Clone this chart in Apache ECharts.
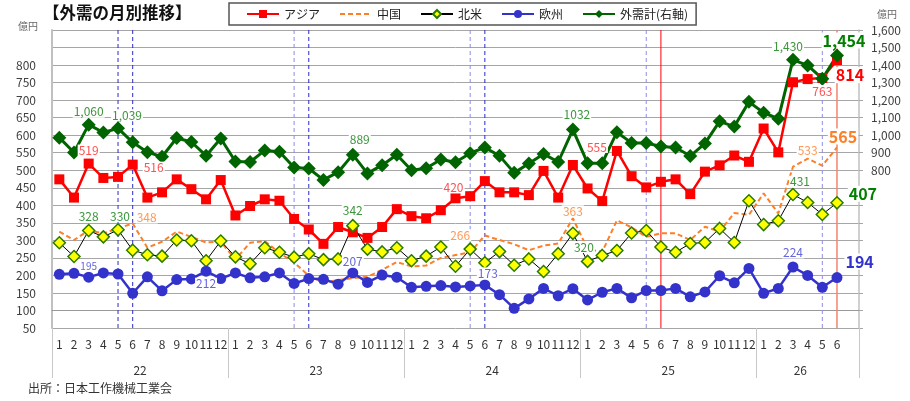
<!DOCTYPE html>
<html>
<head>
<meta charset="utf-8">
<script src="https://cdn.jsdelivr.net/npm/echarts@6/dist/echarts.min.js"></script>
<style>
  html, body { margin: 0; padding: 0; background: #fff; }
  #chart { width: 910px; height: 401px; }
</style>
</head>
<body>
<div id="chart"></div>
<script>
// 年・月
const years = ['22', '23', '24', '25', '26'];
const monthsPerYear = [12, 12, 12, 12, 6];

// 億円 (左軸)
const asia = [474, 422, 519, 478, 481, 516, 422, 437, 474, 446, 417, 472,
  371, 398, 417, 413, 361, 331, 290, 338, 323, 307, 338, 389,
  369, 363, 386, 420, 426, 469, 437, 437, 429, 498, 422, 515,
  448, 412, 555, 483, 451, 467, 474, 432, 496, 514, 542, 524,
  619, 551, 751, 760, 763, 814];
const china = [325, 301, 328, 320, 334, 348, 279, 296, 325, 310, 294, 296,
  246, 293, 298, 264, 237, 199, 179, 187, 192, 196, 216, 238,
  226, 228, 250, 258, 266, 314, 301, 289, 272, 285, 291, 363,
  275, 267, 357, 337, 310, 320, 320, 301, 339, 325, 378, 373,
  434, 377, 510, 533, 513, 565];
const northAmerica = [293, 254, 328, 310, 330, 272, 259, 255, 301, 299, 242, 298,
  253, 233, 279, 266, 252, 262, 245, 247, 342, 275, 267, 279,
  242, 255, 281, 226, 275, 236, 268, 229, 247, 211, 262, 320,
  240, 257, 271, 321, 328, 281, 266, 291, 294, 334, 294, 413,
  345, 356, 431, 408, 374, 407];
const europe = [203, 206, 195, 207, 204, 149, 196, 156, 188, 190, 212, 191,
  207, 193, 196, 207, 177, 191, 189, 175, 207, 180, 201, 195,
  166, 169, 171, 167, 170, 173, 145, 106, 133, 163, 142, 162,
  130, 152, 163, 136, 157, 157, 163, 139, 153, 199, 179, 220,
  149, 163, 224, 200, 166, 194];
// 億円 (右軸)
const total = [986, 901, 1060, 1015, 1039, 959, 903, 877, 984, 961, 883, 981,
  850, 847, 913, 906, 815, 810, 745, 789, 889, 782, 829, 888,
  800, 811, 861, 845, 897, 930, 882, 785, 838, 893, 847, 1032,
  840, 840, 1017, 956, 955, 935, 930, 881, 953, 1079, 1049, 1190,
  1128, 1094, 1430, 1398, 1322, 1454];

// 縦線を引く月
const markDark = ['22/5', '22/6', '23/6', '24/6'];
const markLight = ['23/5', '24/5', '25/5', '26/5'];
const markRed = ['25/6'];
const markSalmon = ['26/6'];

// 軸の範囲
const leftMin = 50, leftMax = 900;

// カテゴリ（最後に空の枠が1つある）
const categories = [];
const yearBounds = [0];
const yearCenters = [];
const yearAt = {};
years.forEach((y, k) => {
  const start = categories.length;
  for (let m = 1; m <= monthsPerYear[k]; m++) categories.push(y + '/' + m);
  yearCenters.push(start + monthsPerYear[k] / 2);
  yearAt[start + monthsPerYear[k] / 2] = y;
  if (k < years.length - 1) yearBounds.push(categories.length);
});
categories.push('');
yearBounds.push(categories.length);

const font = "'Noto Sans CJK JP', 'Noto Sans', sans-serif";
const comma = p => Number(p.value).toLocaleString('en-US');

function labeled(values, specs) {
  return values.map((v, i) => specs[i] ? { value: v, label: Object.assign({ show: true }, specs[i]) } : v);
}

// 縦線はカスタム系列で描く
function vlines(months, style) {
  return {
    type: 'custom', silent: true, xAxisIndex: 0, yAxisIndex: 0,
    data: months.map(m => [m]),
    renderItem: (params, api) => {
      const x = api.value(0);
      const p1 = api.coord([x, leftMax]);
      const p2 = api.coord([x, leftMin]);
      return {
        type: 'line',
        shape: { x1: p1[0], y1: p1[1], x2: p2[0], y2: p2[1] },
        style: Object.assign({ fill: null }, style)
      };
    }
  };
}

const big = { fontSize: 16, fontWeight: 'bold' };

const asiaLabels = {
  2: { position: 'top', distance: 2 },
  5: { position: 'right', distance: 5, offset: [0, 3] },
  27: { position: 'top', distance: 0, offset: [-2, 0] },
  38: { position: 'left', distance: 4, offset: [0, -4] },
  52: { position: 'bottom', distance: 2 },
  53: Object.assign({ position: 'bottom', distance: 2, offset: [13, 0], color: '#ff0000' }, big)
};
const chinaLabels = {
  5: { position: 'right', distance: 3, offset: [0, -6] },
  28: { position: 'top', distance: 11, offset: [-10, 0] },
  35: { position: 'top', distance: 1 },
  51: { position: 'top', distance: 2 },
  53: Object.assign({ position: 'top', distance: 3, offset: [6, 0], color: '#ff7f27' }, big)
};
const naLabels = {
  2: { position: 'top', distance: 1 },
  4: { position: 'top', distance: 1, offset: [2, 0] },
  20: { position: 'top', distance: 2 },
  35: { position: 'bottom', distance: 1, offset: [11, 0] },
  50: { position: 'top', distance: 0, offset: [7, 0] },
  53: Object.assign({ position: 'right', distance: 4, offset: [0, -9], color: '#008000' }, big)
};
const europeLabels = {
  2: { position: 'top', distance: 0, fontSize: 10 },
  10: { position: 'bottom', distance: 1 },
  20: { position: 'top', distance: 0 },
  29: { position: 'top', distance: 0, offset: [3, 0] },
  50: { position: 'top', distance: 3 },
  53: Object.assign({ position: 'right', distance: 2, offset: [0, -16], color: '#3333cc' }, big)
};
const totalLabels = {
  2: { position: 'top', distance: 0 },
  4: { position: 'top', distance: 0, offset: [9, 0] },
  20: { position: 'top', distance: 2, offset: [7, 0] },
  35: { position: 'top', distance: 2, offset: [4, 0], formatter: '{c}' },
  50: { position: 'top', distance: 0, offset: [-5, 0] },
  53: Object.assign({ position: 'top', distance: 0, offset: [7, 0], color: '#008000' }, big)
};

const chart = echarts.init(document.getElementById('chart'));

const labelBase = { fontSize: 12, backgroundColor: '#fff', padding: [0, 1], formatter: comma };

chart.setOption({
  animation: false,
  textStyle: { fontFamily: font },
  title: [{
    text: '【外需の月別推移】', left: 38, top: -1,
    textStyle: { fontSize: 16.5, fontWeight: 'bold', color: '#111', fontFamily: font }
  }, {
    text: '出所：日本工作機械工業会', left: 23, top: 377,
    textStyle: { fontSize: 12, fontWeight: 'normal', color: '#333', fontFamily: font }
  }],
  legend: {
    left: 229, top: 3, padding: [5, 8, 5, 17], itemGap: 19, itemWidth: 32, itemHeight: 10,
    borderColor: '#555', borderWidth: 1.5,
    textStyle: { fontSize: 12, color: '#222' },
    data: ['アジア', '中国', '北米', '欧州', '外需計(右軸)']
  },
  grid: { left: 52, right: 51, top: 30, bottom: 73 },
  xAxis: [{
    type: 'category', data: categories, boundaryGap: true,
    axisLine: { lineStyle: { color: '#999' } },
    axisTick: { interval: 0, length: 25, lineStyle: { color: '#c8c8c8' } },
    axisLabel: { interval: 0, margin: 10, fontSize: 12, color: '#333', formatter: v => v.split('/')[1] || '' },
    splitLine: { show: false }
  }, {
    type: 'value', min: 0, max: categories.length, position: 'bottom',
    axisLine: { show: false }, splitLine: { show: false },
    axisTick: { show: true, customValues: yearBounds, length: 50, lineStyle: { color: '#c8c8c8' } },
    axisLabel: { customValues: yearCenters, formatter: v => yearAt[v] || '', margin: 36, fontSize: 12, color: '#333' }
  }],
  yAxis: [{
    type: 'value', min: leftMin, max: leftMax, interval: 50, position: 'left',
    name: '億円', nameGap: 4,
    nameTextStyle: { fontSize: 10, color: '#666', align: 'right', verticalAlign: 'middle', padding: [0, 14, 0, 0] },
    axisLine: { show: true, lineStyle: { color: '#c0c0c0', width: 2 } },
    axisTick: { show: false },
    axisLabel: { margin: 16, fontSize: 12, color: '#404040', formatter: v => v <= 800 ? v : '' },
    splitLine: { lineStyle: { color: '#a6a6a6' } }
  }, {
    type: 'value', min: -100, max: 1600, interval: 100, position: 'right',
    name: '億円', nameGap: 16,
    nameTextStyle: { fontSize: 10, color: '#666', align: 'left', verticalAlign: 'middle', padding: [0, 0, 0, 18] },
    axisLine: { show: true, lineStyle: { color: '#c0c0c0', width: 1.5 } },
    axisTick: { show: true, length: 4, lineStyle: { color: '#a6a6a6' } },
    axisLabel: { margin: 12, fontSize: 12, color: '#404040', formatter: v => v >= 800 ? v.toLocaleString('en-US') : '' },
    splitLine: { show: false }
  }],
  series: [
    vlines(markDark, { stroke: '#2a2ad0', lineWidth: 1, lineDash: [4, 3] }),
    vlines(markLight, { stroke: '#8c8ce8', lineWidth: 1, lineDash: [4, 3] }),
    vlines(markRed, { stroke: '#ff0000', lineWidth: 1 }),
    vlines(markSalmon, { stroke: '#f4846a', lineWidth: 1.5 }),
  {
    name: 'アジア', type: 'line', yAxisIndex: 0,
    data: labeled(asia, asiaLabels),
    symbol: 'rect', symbolSize: 10,
    lineStyle: { color: '#ff0000', width: 2.5 },
    itemStyle: { color: '#ff0000' },
    label: Object.assign({}, labelBase, { color: '#ff5050' })
  }, {
    name: '中国', type: 'line', yAxisIndex: 0,
    data: labeled(china, chinaLabels),
    symbol: 'circle', symbolSize: 0,
    lineStyle: { color: '#ff7f27', width: 2, type: [5, 3] },
    itemStyle: { color: 'rgba(0,0,0,0)' },
    label: Object.assign({}, labelBase, { color: '#ff9955' })
  }, {
    name: '北米', type: 'line', yAxisIndex: 0,
    data: labeled(northAmerica, naLabels),
    symbol: 'diamond', symbolSize: 12,
    lineStyle: { color: '#000', width: 1 },
    itemStyle: { color: '#ffff00', borderColor: '#2a7a00', borderWidth: 1.5 },
    label: Object.assign({}, labelBase, { color: '#3c963c' })
  }, {
    name: '欧州', type: 'line', yAxisIndex: 0,
    data: labeled(europe, europeLabels),
    symbol: 'circle', symbolSize: 11,
    lineStyle: { color: '#3333cc', width: 2.5 },
    itemStyle: { color: '#3333cc' },
    label: Object.assign({}, labelBase, { color: '#6666dd' })
  }, {
    name: '外需計(右軸)', type: 'line', yAxisIndex: 1,
    data: labeled(total, totalLabels),
    symbol: 'diamond', symbolSize: 14,
    lineStyle: { color: '#006400', width: 3 },
    itemStyle: { color: '#006400' },
    label: Object.assign({}, labelBase, { color: '#3c963c' })
  }]
});
</script>
</body>
</html>
